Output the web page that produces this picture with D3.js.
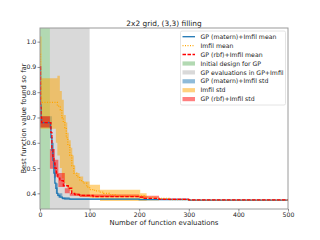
<!DOCTYPE html>
<html><head><meta charset="utf-8">
<script src="https://cdn.jsdelivr.net/npm/d3@7"></script>
<style>body{margin:0;background:#fff}svg{display:block}text{font-family:"DejaVu Sans",sans-serif;fill:#222}</style>
</head><body>
<svg id="c" width="320" height="240"></svg>
<script>
const title = "2x2 grid, (3,3) filling";
const xLabel = "Number of function evaluations";
const yLabel = "Best function value found so far";
const xTicks = [0,100,200,300,400,500];
const yTicks = [0.4,0.5,0.6,0.7,0.8,0.9,1.0];
const initSpan = [0,20];
const gpSpan = [20,100];

const maternX = [0,1,2,3,20,21,22,24,26,28,30,32,34,36,40,45,50,60,100,200,300,500];
const maternY = [0.90,0.75,0.70,0.68,0.68,0.66,0.62,0.57,0.53,0.48,0.44,0.42,0.40,0.392,0.385,0.38,0.378,0.377,0.377,0.375,0.373,0.373];

const imfilX = [0,1,2,3,30,35,38,41,44,47,50,53,56,60,64,68,74,80,87,94,100,110,120,128,140,155,180,210,235,260,300,500];
const imfilY = [0.95,0.85,0.78,0.76,0.76,0.745,0.745,0.73,0.70,0.68,0.66,0.62,0.59,0.55,0.51,0.48,0.465,0.45,0.44,0.425,0.415,0.41,0.405,0.40,0.395,0.39,0.39,0.385,0.38,0.375,0.373,0.373];

const rbfX = [0,1,2,3,20,22,24,26,28,30,33,36,40,47,57,64,70,80,107,200,210,240,300,500];
const rbfY = [0.90,0.74,0.70,0.68,0.68,0.64,0.58,0.545,0.52,0.50,0.48,0.46,0.45,0.43,0.42,0.40,0.395,0.392,0.387,0.385,0.38,0.376,0.374,0.373];

const maternStdX = [0,20,24,28,32,36,45,60,300,500];
const maternStdLo = [0.66,0.66,0.55,0.46,0.40,0.383,0.376,0.374,0.372,0.372];
const maternStdHi = [0.705,0.705,0.60,0.52,0.44,0.40,0.385,0.38,0.374,0.374];

const imfilStdX = [0,3,30,32,35,40,44,48,52,55,58,62,65,68,71,80,87,100,121,202,215,240];
const imfilStdLo = [0.655,0.655,0.655,0.60,0.55,0.50,0.46,0.44,0.43,0.42,0.41,0.40,0.40,0.395,0.39,0.387,0.385,0.381,0.37,0.37,0.372,0.372];
const imfilStdHi = [1.02,0.855,0.855,0.855,0.865,0.805,0.77,0.71,0.68,0.64,0.61,0.58,0.55,0.51,0.48,0.467,0.447,0.434,0.414,0.40,0.38,0.376];

const rbfStdX = [0,3,20,30,37,50,60,80,200,240,300,500];
const rbfStdLo = [0.66,0.66,0.497,0.466,0.425,0.40,0.39,0.385,0.382,0.374,0.372,0.372];
const rbfStdHi = [0.705,0.705,0.575,0.533,0.48,0.42,0.40,0.395,0.39,0.38,0.375,0.374];

const legendItems = [
  {label:"GP (matern)+Imfil mean", type:"line", color:"#1f77b4", dash:null},
  {label:"Imfil mean", type:"line", color:"orange", dash:"1,1.5"},
  {label:"GP (rbf)+Imfil mean", type:"line", color:"red", dash:"3.5,1.5"},
  {label:"Initial design for GP", type:"patch", color:"green", op:0.3},
  {label:"GP evaluations in GP+Imfil", type:"patch", color:"grey", op:0.3},
  {label:"GP (matern)+Imfil std", type:"patch", color:"#1f77b4", op:0.5},
  {label:"Imfil std", type:"patch", color:"orange", op:0.5},
  {label:"GP (rbf)+Imfil std", type:"patch", color:"red", op:0.5}
];

const svg = d3.select("#c");
const L=40,R=288,T=28,B=209;
const x = d3.scaleLinear().domain([0,500]).range([L,R]);
const y = d3.scaleLinear().domain([0.338,1.054]).range([B,T]);

svg.append("clipPath").attr("id","cp").append("rect").attr("x",L).attr("y",T).attr("width",R-L).attr("height",B-T);
const g = svg.append("g").attr("clip-path","url(#cp)");

g.append("rect").attr("x",x(initSpan[0])).attr("y",T).attr("width",x(initSpan[1])-x(initSpan[0])).attr("height",B-T).attr("fill","green").attr("opacity",0.3);
g.append("rect").attr("x",x(gpSpan[0])).attr("y",T).attr("width",x(gpSpan[1])-x(gpSpan[0])).attr("height",B-T).attr("fill","grey").attr("opacity",0.3);

function band(xs,lo,hi,color,op){
  const d = xs.map((v,i)=>({x:v,lo:lo[i],hi:hi[i]}));
  const a = d3.area().x(e=>x(e.x)).y0(e=>y(e.lo)).y1(e=>y(e.hi)).curve(d3.curveStepAfter);
  g.append("path").attr("d",a(d)).attr("fill",color).attr("opacity",op);
}
band(maternStdX,maternStdLo,maternStdHi,"#1f77b4",0.5);
band(imfilStdX,imfilStdLo,imfilStdHi,"orange",0.5);
band(rbfStdX,rbfStdLo,rbfStdHi,"red",0.5);

function line(xs,ys,color,dash){
  const d = xs.map((v,i)=>[v,ys[i]]);
  const l = d3.line().x(e=>x(e[0])).y(e=>y(e[1])).curve(d3.curveStepAfter);
  const p = g.append("path").attr("d",l(d)).attr("fill","none").attr("stroke",color).attr("stroke-width",1.3);
  if(dash) p.attr("stroke-dasharray",dash);
}
line(maternX,maternY,"#1f77b4",null);
line(imfilX,imfilY,"orange","1,1.5");
line(rbfX,rbfY,"red","3.5,1.5");

svg.append("rect").attr("x",L).attr("y",T).attr("width",R-L).attr("height",B-T).attr("fill","none").attr("stroke","#9a9a9a").attr("stroke-width",1);

const xa = svg.append("g").attr("transform",`translate(0,${B})`).call(d3.axisBottom(x).tickValues(xTicks).tickSize(2.5).tickPadding(1).tickFormat(d3.format("d")));
const ya = svg.append("g").attr("transform",`translate(${L},0)`).call(d3.axisLeft(y).tickValues(yTicks).tickSize(2.5).tickPadding(1.2).tickFormat(d3.format(".1f")));
[xa,ya].forEach(a=>{a.select(".domain").remove();a.selectAll("line").attr("stroke","#444").attr("stroke-width",0.6);a.selectAll("text").attr("font-size",6.2).attr("font-family","DejaVu Sans").attr("fill","#222");});

svg.append("text").attr("x",(L+R)/2).attr("y",26).attr("text-anchor","middle").attr("font-size",7.4).text(title);
svg.append("text").attr("x",(L+R)/2).attr("y",225).attr("text-anchor","middle").attr("font-size",6.9).text(xLabel);
svg.append("text").attr("transform",`translate(25.5,${(T+B)/2}) rotate(-90)`).attr("text-anchor","middle").attr("font-size",6.9).text(yLabel);

const lg = svg.append("g");
lg.append("rect").attr("x",180.5).attr("y",31).attr("width",105).attr("height",74).attr("rx",1.5).attr("fill","#fff").attr("fill-opacity",0.8).attr("stroke","#ddd").attr("stroke-width",0.8);
legendItems.forEach((it,i)=>{
  const cy = 36.7 + i*8.9;
  if(it.type==="line"){
    const p = lg.append("line").attr("x1",182.5).attr("x2",195).attr("y1",cy).attr("y2",cy).attr("stroke",it.color).attr("stroke-width",1.3);
    if(it.dash) p.attr("stroke-dasharray",it.dash);
  } else {
    lg.append("rect").attr("x",182.5).attr("y",cy-2).attr("width",12.5).attr("height",4.2).attr("fill",it.color).attr("opacity",it.op);
  }
  lg.append("text").attr("x",200.5).attr("y",cy+2.2).attr("font-size",6.2).text(it.label);
});
</script>
</body></html>
